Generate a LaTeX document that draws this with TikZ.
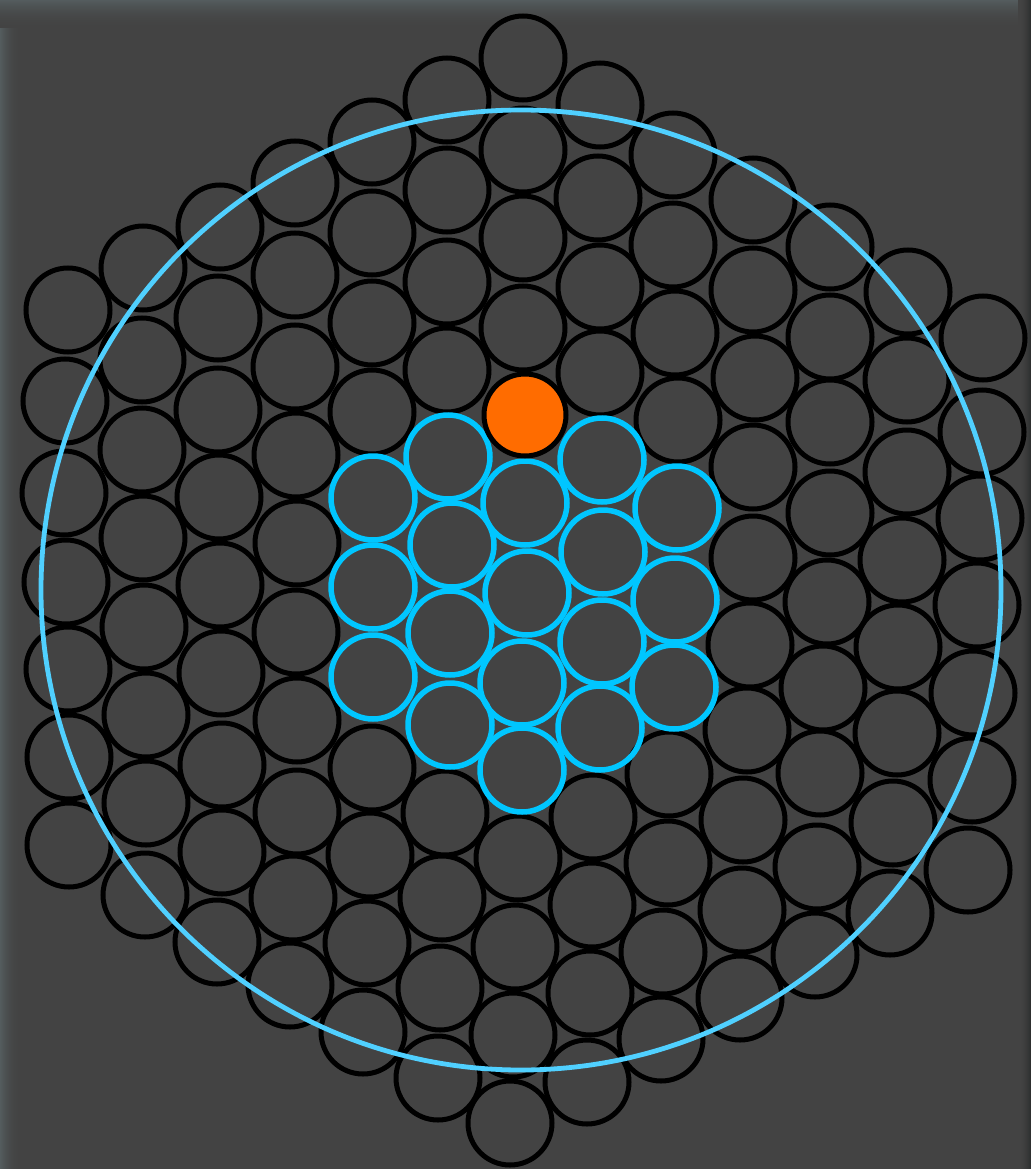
\documentclass[tikz,border=0pt]{standalone}
\definecolor{bgin}{RGB}{67,67,67}
\definecolor{edgeL}{RGB}{84,92,94}
\definecolor{edgeR}{RGB}{42,44,44}
\definecolor{hl}{RGB}{0,198,255}
\definecolor{ring}{RGB}{80,208,255}
\definecolor{orng}{RGB}{255,108,0}
\tikzset{
  disk/.style={draw=black,line width=5pt},
  hldisk/.style={draw=hl,line width=5.5pt},
  odisk/.style={draw=black,fill=orng,line width=5pt},
  bigring/.style={draw=ring,line width=4.8pt}
}
\begin{document}
\begin{tikzpicture}[x=1pt,y=-1pt]
\useasboundingbox (0,0) rectangle (1031,1169);
% background with soft edges
\fill[bgin] (0,0) rectangle (1031,1169);
\foreach \i in {0,...,19}{
  \pgfmathtruncatemacro{\p}{100*(1-\i/20)^2}
  \fill[edgeL!\p!bgin] (\i,0) rectangle (\i+1.05,1169);
}
\foreach \j in {0,...,27}{
  \pgfmathtruncatemacro{\p}{100*(1-\j/28)^2}
  \fill[edgeL!\p!bgin] (0,\j) rectangle (1018,\j+1.05);
}
\foreach \k in {0,...,12}{
  \pgfmathtruncatemacro{\p}{100*(\k/13)^2}
  \fill[edgeR!\p!bgin] (1018+\k,0) rectangle (1019.05+\k,1169);
}
% black disks
\foreach \px/\py in {
 68/310,65/401,64/493,66/582,68/669,69/757,69/845,
 143/268,142/360,142/450,143/538,144/627,146/715,146/803,145/895,
 220/227,218/318,218/410,219/497,220/585,221/673,222/765,222/852,217/942,
 295/183,295/275,295/367,296/455,297/543,296/632,297/720,297/812,293/898,290/985,
 372/142,372/233,372/323,372/412,372/768,370/855,367/943,363/1032,
 447/100,447/190,447/282,447/370,445/813,442/898,440/988,438/1078,
 523/58,523/150,523/238,523/328,518/858,515/947,513/1035,510/1123,
 600/105,598/198,600/287,600/373,593/817,592/905,590/993,587/1082,
 673/155,673/245,675/333,678/420,669/774,668/863,663/952,661/1039,
 753/200,753/290,755/378,753/467,753/558,750/645,747/730,743/820,742/910,740/998,
 830/247,830/337,830/422,830/513,827/602,823/688,820/773,817/867,815/955,
 908/292,907/380,907/472,902/560,898/647,897/733,893/823,890/913,
 983/338,982/432,980/518,977/605,973/693,972/780,968/870}{
  \draw[disk] (\px,\py) circle[radius=42];
}
% highlighted disks
\foreach \px/\py in {
 373/498,373/587,373/677,
 448/457,452/545,450/633,450/725,
 525/503,527/593,522/683,522/770,
 602/460,603/552,602/642,600/728,
 677/508,675/600,674/687}{
  \draw[hldisk] (\px,\py) circle[radius=42];
}
% orange disk
\draw[odisk] (525,415) circle[radius=41];
% enclosing ring
\draw[bigring] (521,590) circle[radius=480];
\end{tikzpicture}
\end{document}
